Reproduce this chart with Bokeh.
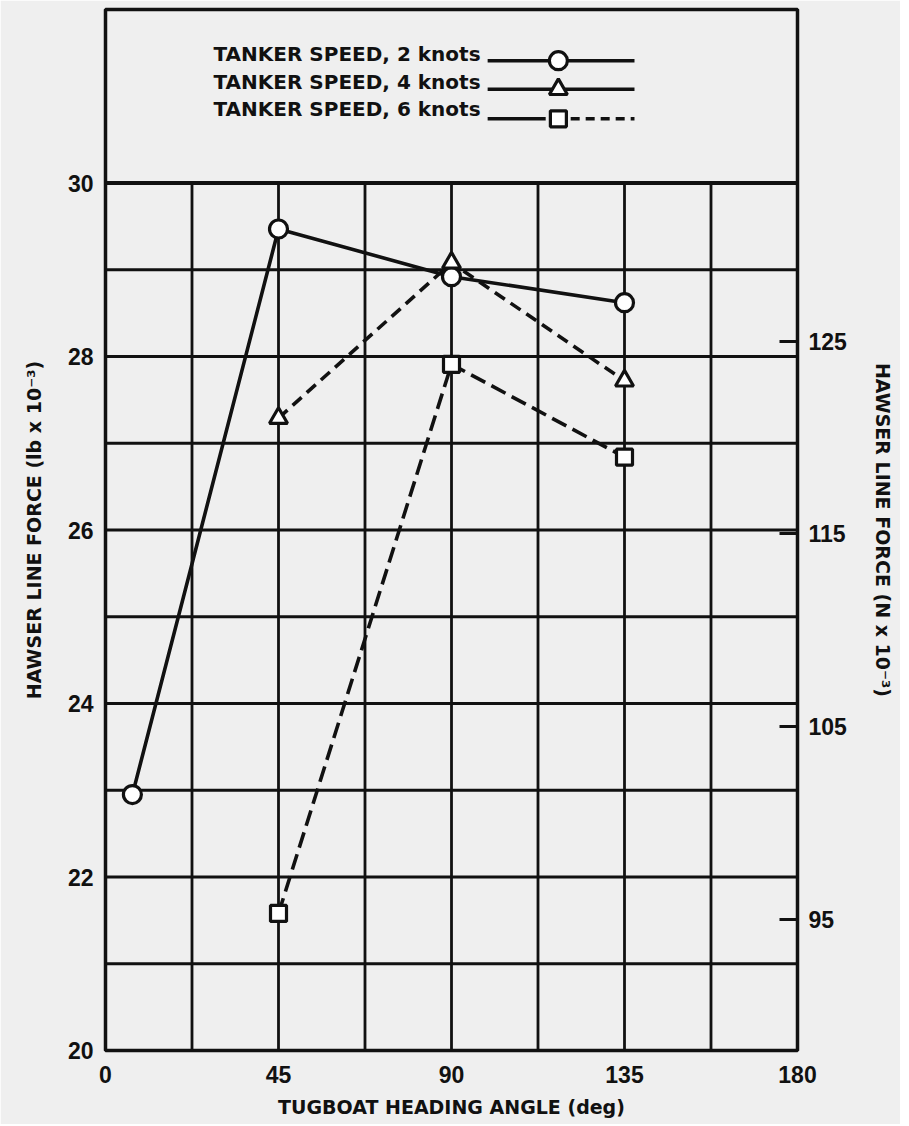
import numpy as np
from bokeh.plotting import figure
from bokeh.models import Range1d, LinearAxis, FixedTicker
from bokeh.core.properties import value
from bokeh.embed import file_html
from bokeh.resources import INLINE

# ---- data ----
angles_2 = [7, 45, 90, 135]
force_2 = [22.95, 29.47, 28.92, 28.62]
angles_4 = [45, 90, 135]
force_4 = [27.29, 29.08, 27.72]
angles_6 = [45, 90, 135]
force_6 = [21.58, 27.91, 26.84]
legend_labels = ["TANKER SPEED, 2 knots", "TANKER SPEED, 4 knots", "TANKER SPEED, 6 knots"]
x_ticks = [0, 45, 90, 135, 180]
y_ticks = [20, 22, 24, 26, 28, 30]
n_ticks = [95, 105, 115, 125]
n_range = [88.2, 142.2]   # right-axis (N x 10^-3) extent as printed on the chart

TICK_FONT = "Liberation Sans"
LABEL_FONT = "DejaVu Sans"
INK = "#111111"
BG = "#efefef"

p = figure(width=900, height=1124, x_range=Range1d(0, 180), y_range=Range1d(20, 32),
           output_backend="svg", toolbar_location=None,
           min_border_left=105, min_border_right=103, min_border_top=9, min_border_bottom=74)
p.background_fill_color = BG
p.border_fill_color = BG
p.outline_line_color = INK
p.outline_line_width = 3.5
p.xgrid.visible = False
p.ygrid.visible = False

# grid (only in data area 20..30)
gx = np.arange(22.5, 180, 22.5)
p.segment(x0=gx, y0=20, x1=gx, y1=30, line_color=INK, line_width=2.8)
gy = np.arange(21, 30, 1.0)
p.segment(x0=0, y0=gy, x1=180, y1=gy, line_color=INK, line_width=2.8)
p.segment(x0=[0], y0=[30], x1=[180], y1=[30], line_color=INK, line_width=3.8)

# axes
p.xaxis.ticker = FixedTicker(ticks=x_ticks)
p.xaxis.axis_label = "TUGBOAT HEADING ANGLE (deg)"
p.yaxis.ticker = FixedTicker(ticks=y_ticks)
p.yaxis.axis_label = "HAWSER LINE FORCE (lb x 10\u207b\u00b3)"
for ax in (p.xaxis[0], p.yaxis[0]):
    ax.axis_line_color = None
    ax.major_tick_line_color = None
    ax.minor_tick_line_color = None
    ax.major_label_text_font = TICK_FONT
    ax.major_label_text_font_style = "bold"
    ax.major_label_text_font_size = "23px"
    ax.major_label_text_color = INK
    ax.axis_label_text_font = LABEL_FONT
    ax.axis_label_text_font_style = "bold"
    ax.axis_label_text_font_size = "19px"
    ax.axis_label_text_color = INK
p.xaxis.major_label_standoff = 9
p.xaxis.axis_label_standoff = 10
p.yaxis.major_label_standoff = 6
p.yaxis.axis_label_standoff = 20
p.yaxis.major_label_orientation = "horizontal"

p.extra_y_ranges = {"N": Range1d(n_range[0], n_range[1])}
rax = LinearAxis(y_range_name="N", ticker=FixedTicker(ticks=n_ticks),
                 axis_label="HAWSER LINE FORCE (N x 10\u207b\u00b3)")
rax.axis_line_color = None
rax.minor_tick_line_color = None
rax.major_tick_in = 18
rax.major_tick_out = 0
rax.major_tick_line_width = 3
rax.major_tick_line_color = INK
rax.major_label_standoff = 11
rax.major_label_text_font = TICK_FONT
rax.major_label_text_font_style = "bold"
rax.major_label_text_font_size = "23px"
rax.major_label_text_color = INK
rax.axis_label_text_font = LABEL_FONT
rax.axis_label_text_font_style = "bold"
rax.axis_label_text_font_size = "19px"
rax.axis_label_text_color = INK
rax.axis_label_standoff = 22
p.add_layout(rax, "right")

# series
LW = 3.6
p.line(angles_2, force_2, line_color=INK, line_width=LW)
p.line(angles_4, force_4, line_color=INK, line_width=LW, line_dash="12 7")
p.line(angles_6, force_6, line_color=INK, line_width=LW, line_dash="16 7")
p.scatter(angles_2, force_2, marker="circle", size=18, fill_color="white",
          line_color=INK, line_width=3.2)
p.scatter(angles_4, force_4, marker="triangle", size=18, fill_color="white",
          line_color=INK, line_width=3.2)
p.scatter(angles_6, force_6, marker="square", size=16, fill_color="white",
          line_color=INK, line_width=3.2)

# legend (drawn to match the original layout: text, then line sample with marker)
ty = [31.49, 31.17, 30.85]
ly = [31.41, 31.08, 30.74]
p.text(x=[28.1] * 3, y=ty, text=legend_labels, text_font=value(LABEL_FONT),
       text_font_style="bold", text_font_size="20px", text_baseline="middle",
       text_align="left", text_color=INK)
p.segment(x0=[99.4, 99.4, 99.4], y0=ly, x1=[137.6, 137.6, 114.5], y1=ly,
          line_color=INK, line_width=LW)
p.segment(x0=[121.0], y0=[ly[2]], x1=[137.6], y1=[ly[2]], line_color=INK,
          line_width=LW, line_dash="9 6")
mk = ["circle", "triangle", "square"]
sz = [18, 18, 16]
for i in range(3):
    p.scatter([117.8], [ly[i]], marker=mk[i], size=sz[i], fill_color="white",
              line_color=INK, line_width=3.2)

open("out.html", "w").write(file_html(p, INLINE))
